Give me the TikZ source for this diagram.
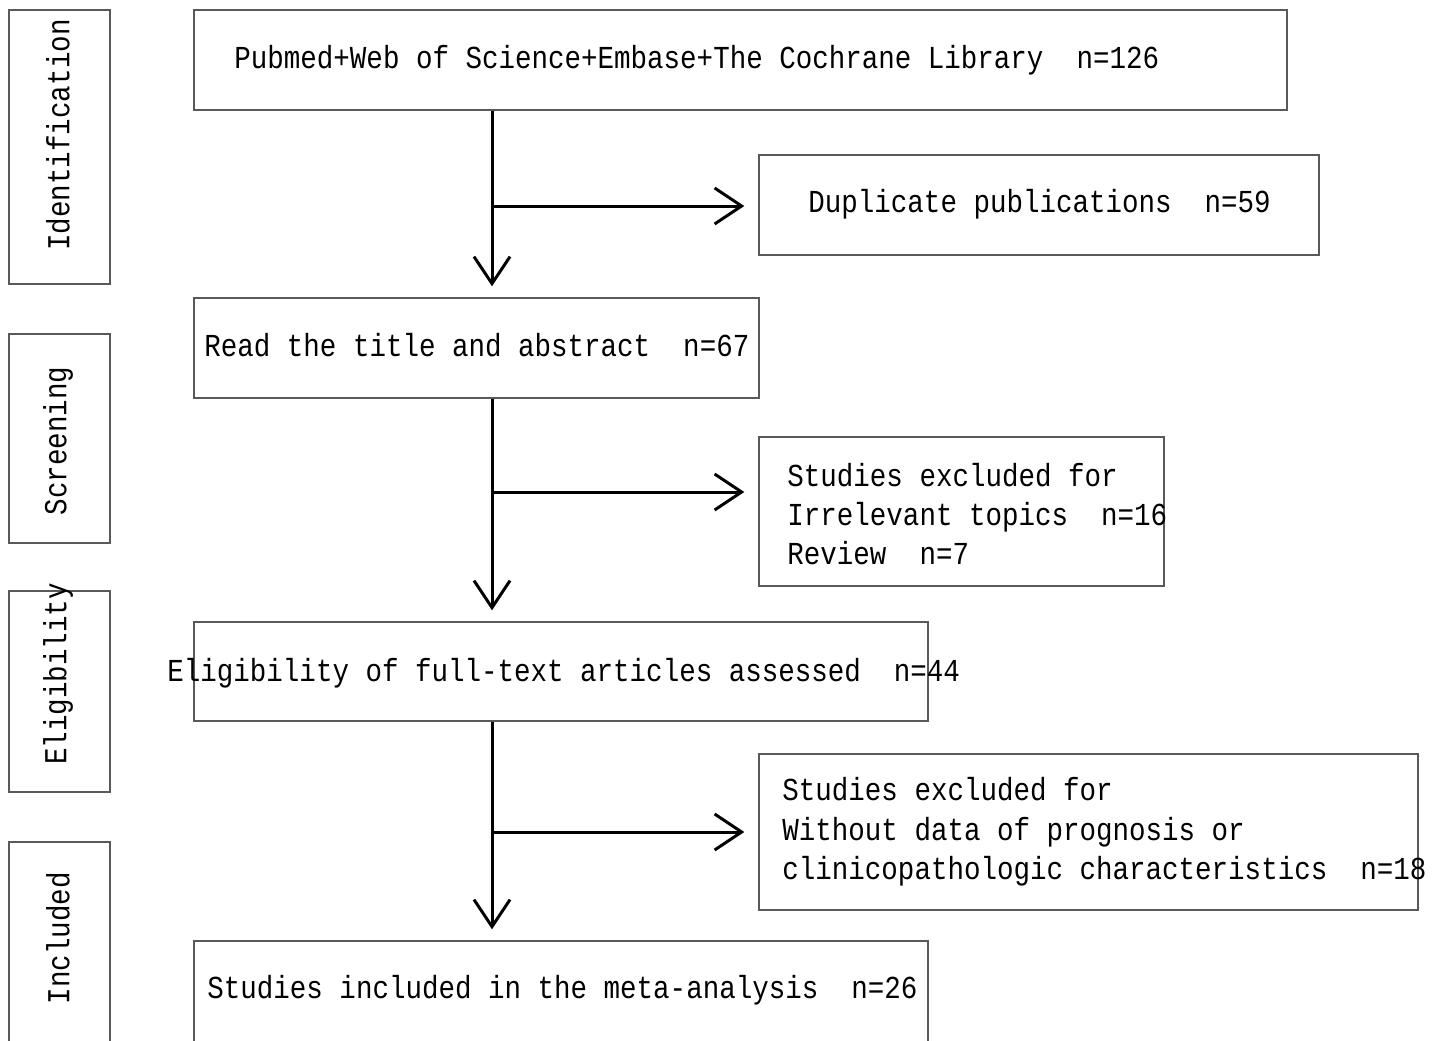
\documentclass[tikz,border=0pt]{standalone}
\usepackage{fontspec}
\setmainfont[FakeStretch=0.86]{Liberation Mono}
\usepackage{xcolor}
\usetikzlibrary{arrows.meta, fit}

\begin{document}
\begin{tikzpicture}[x=0.5pt, y=-0.5pt,
  box/.style={draw=black!65, line width=0.7pt, inner sep=0pt},
  txt/.style={inner sep=0pt, font=\fontsize{16pt}{19.7pt}\selectfont, align=left},
  arr/.style={line width=1.5pt, -{Straight Barb[length=13.5pt, width=18pt, line width=1.5pt]}, shorten >=5.5pt}]
\useasboundingbox (0,0) rectangle (1440,1040);

% stages
\node[box, fit={(9,10) (110,284)}] (idBox) {};
\node[box, fit={(9,334) (110,543)}] (scBox) {};
\node[box, fit={(9,591) (110,792)}] (elBox) {};
\node[box, fit={(9,842) (110,1060)}] (inBox) {};
\node[txt, rotate=90] (idText) at (58,135) {Identification};
\node[txt, rotate=90] (scText) at (58,441) {Screening};
\node[txt, rotate=90] (elText) at (58,674) {Eligibility};
\node[txt, rotate=90] (inText) at (58,938) {Included};

% main boxes
\node[box, fit={(194,10) (1287,110)}] (top) {};
\node[box, fit={(759,155) (1319,255)}] (dup) {};
\node[box, fit={(194,298) (759,398)}] (read) {};
\node[box, fit={(759,437) (1164,586)}] (exA) {};
\node[box, fit={(194,622) (928,721)}] (elig) {};
\node[box, fit={(759,754) (1418,910)}] (exB) {};
\node[box, fit={(194,941) (928,1060)}] (final) {};

\node[txt, anchor=west] (topText) at (234,60) {Pubmed+Web of Science+Embase+The Cochrane Library~~n=126};
\node[txt, anchor=west] (dupText) at (808,204) {Duplicate publications~~n=59};
\node[txt, anchor=west] (readText) at (204,345) {Read the title and abstract~~n=67};
\node[txt, anchor=west] (exAText) at (787,514) {Studies excluded for\\Irrelevant topics~~n=16\\Review~~n=7};
\node[txt, anchor=west] (eligText) at (167,673) {Eligibility of full-text articles assessed~~n=44};
\node[txt, anchor=west] (exBText) at (782,832) {Studies excluded for\\Without data of prognosis or\\clinicopathologic characteristics~~n=18};
\node[txt, anchor=west] (finalText) at (207,990) {Studies included in the meta-analysis~~n=26};

% arrows
\foreach \a/\b/\c/\y in {top/read/dup/206, read/elig/exA/492, elig/final/exB/832}{
  \coordinate (j\a) at (492,\y);
  \draw[arr] (\a.south -| j\a) -- (\b.north -| j\a);
  \draw[arr, shorten >=7pt] (j\a) -- (\c.west |- j\a);
}
\end{tikzpicture}
\end{document}
